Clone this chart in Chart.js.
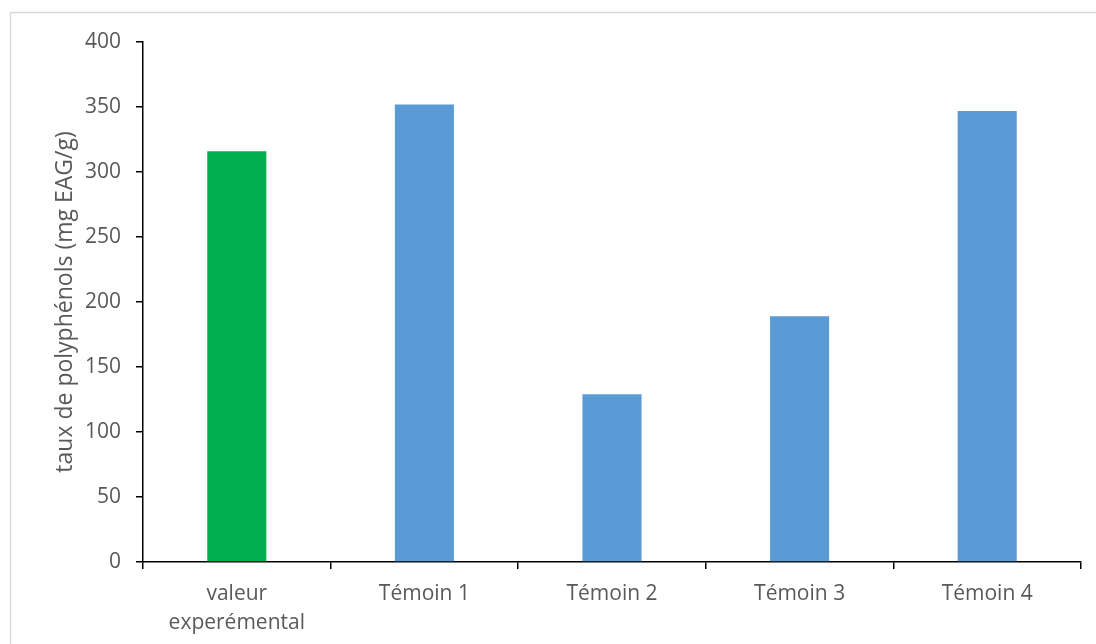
<!DOCTYPE html>
<html>
<head>
<meta charset="utf-8">
<script src="https://cdn.jsdelivr.net/npm/chart.js@4"></script>
<style>
  body { margin: 0; background: #fff; }
  canvas { display: block; }
</style>
</head>
<body>
<canvas id="chartCanvas" width="1096" height="644"></canvas>
<script>
// data
var categories = [["valeur", "experémental"], "Témoin 1", "Témoin 2", "Témoin 3", "Témoin 4"];
var polyphenols = [316, 352, 129, 189, 347];
var barColors = ['#00b050', '#5b9bd5', '#5b9bd5', '#5b9bd5', '#5b9bd5'];
var yTitle = 'taux de polyphénols (mg EAG/g)';

var textColor = '#595959';
var fontFamily = "'Open Sans', 'Liberation Sans', sans-serif";

// light grey frame round the whole chart
var framePlugin = {
    id: 'frame',
    beforeDraw: function(chart) {
        var c = chart.ctx;
        c.save();
        c.strokeStyle = '#d9d9d9';
        c.lineWidth = 1.5;
        c.strokeRect(10.5, 12.5, 1200, 1200);
        c.restore();
    }
};

var ctx = document.getElementById('chartCanvas');
var myChart = new Chart(ctx, {
    type: 'bar',
    data: {
        labels: categories,
        datasets: [{
            data: polyphenols,
            backgroundColor: barColors,
            borderWidth: 0,
            categoryPercentage: 1,
            barPercentage: 0.315
        }]
    },
    options: {
        responsive: false,
        animation: false,
        layout: {
            padding: { left: 10, top: 42, right: 15, bottom: 0 }
        },
        plugins: {
            legend: { display: false },
            tooltip: { enabled: false }
        },
        scales: {
            x: {
                grid: {
                    offset: true,
                    drawOnChartArea: false,
                    drawTicks: true,
                    tickLength: 7,
                    color: '#000',
                    lineWidth: 1.5
                },
                border: { display: true, color: '#000', width: 1.5 },
                ticks: {
                    color: textColor,
                    padding: 11,
                    maxRotation: 0,
                    autoSkip: false,
                    font: { family: fontFamily, size: 21, lineHeight: 1.35 }
                },
                afterFit: function(scale) { scale.height = 82; }
            },
            y: {
                min: 0,
                max: 400,
                ticks: {
                    stepSize: 50,
                    color: textColor,
                    padding: 15,
                    font: { family: fontFamily, size: 21 }
                },
                grid: {
                    drawOnChartArea: false,
                    drawTicks: true,
                    tickLength: 7,
                    color: '#000',
                    lineWidth: 1.5
                },
                border: { display: true, color: '#000', width: 1.5 },
                title: {
                    display: true,
                    text: yTitle,
                    color: textColor,
                    padding: { top: 42, bottom: 0 },
                    font: { family: fontFamily, size: 23 }
                },
                afterFit: function(scale) { scale.width = 133; }
            }
        }
    },
    plugins: [framePlugin]
});
</script>
</body>
</html>
